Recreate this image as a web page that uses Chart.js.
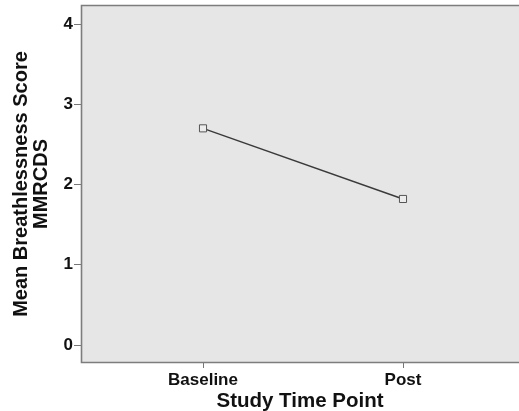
<!DOCTYPE html>
<html>
<head>
<meta charset="utf-8">
<script src="https://cdn.jsdelivr.net/npm/chart.js@4"></script>
<style>
html,body{margin:0;padding:0;background:#fff;}
#wrap{width:519px;height:411px;}
</style>
</head>
<body>
<div id="wrap"><canvas id="c" width="519" height="411"></canvas></div>
<script>
const categories = ['Baseline', 'Post'];
const meanScores = [2.70, 1.82];
const yTickValues = [0, 1, 2, 3, 4];

const FONT = "'Liberation Sans', Arial, Helvetica, sans-serif";

const bgPlugin = {
  id: 'plotBg',
  beforeDraw(chart) {
    const a = chart.chartArea, ctx = chart.ctx;
    ctx.save();
    ctx.fillStyle = '#e6e6e6';
    ctx.fillRect(a.left, a.top, a.right - a.left + 2, a.bottom - a.top);
    ctx.restore();
  },
  afterDraw(chart) {
    const a = chart.chartArea, ctx = chart.ctx;
    ctx.save();
    ctx.strokeStyle = '#7d7d7d';
    ctx.lineWidth = 1.6;
    ctx.beginPath();
    ctx.moveTo(a.right + 2, a.top + 0.5);
    ctx.lineTo(a.left + 0.5, a.top + 0.5);
    ctx.lineTo(a.left + 0.5, a.bottom - 0.5);
    ctx.lineTo(a.right + 2, a.bottom - 0.5);
    ctx.stroke();
    ctx.restore();
  }
};

new Chart(document.getElementById('c'), {
  type: 'line',
  data: {
    datasets: [{
      data: categories.map((c, i) => ({ x: i, y: meanScores[i] })),
      borderColor: '#3a3a3a',
      borderWidth: 1.4,
      pointStyle: 'rect',
      pointRadius: 5,
      pointBackgroundColor: '#ececec',
      pointBorderColor: '#555',
      pointBorderWidth: 1,
      tension: 0
    }]
  },
  options: {
    responsive: false,
    animation: false,
    layout: { autoPadding: false, padding: { top: 5, right: 0, left: 0, bottom: 0 } },
    plugins: { legend: { display: false }, tooltip: { enabled: false } },
    scales: {
      x: {
        type: 'linear',
        min: -0.61,
        max: 1.58,
        afterBuildTicks(axis) { axis.ticks = categories.map((c, i) => ({ value: i })); },
        afterFit(axis) { axis.height = 48; axis.paddingLeft = 0; axis.paddingRight = 0; },
        ticks: {
          callback: (v) => categories[v],
          color: '#111',
          font: { family: FONT, size: 17, weight: 'bold' },
          padding: 2,
          maxRotation: 0
        },
        grid: {
          drawOnChartArea: false,
          drawTicks: true,
          tickLength: 5,
          tickColor: '#777',
          color: '#777'
        },
        border: { display: false },
        title: {
          display: true,
          text: 'Study Time Point',
          color: '#111',
          font: { family: FONT, size: 20.5, weight: 'bold', lineHeight: 0.9 },
          padding: { top: 0, bottom: 0 }
        }
      },
      y: {
        type: 'linear',
        min: -0.224,
        max: 4.237,
        afterBuildTicks(axis) { axis.ticks = yTickValues.map(v => ({ value: v })); },
        afterFit(axis) { axis.width = 81; axis.paddingTop = 0; axis.paddingBottom = 0; },
        ticks: {
          color: '#111',
          font: { family: FONT, size: 17, weight: 'bold' },
          padding: 1
        },
        grid: {
          drawOnChartArea: false,
          drawTicks: true,
          tickLength: 7,
          tickColor: '#777',
          color: '#777'
        },
        border: { display: false },
        title: {
          display: true,
          text: ['Mean Breathlessness Score', 'MMRCDS'],
          color: '#111',
          font: { family: FONT, size: 20, weight: 'bold', lineHeight: 1.03 },
          padding: { top: 11, bottom: 0 }
        }
      }
    }
  },
  plugins: [bgPlugin]
});
</script>
</body>
</html>
